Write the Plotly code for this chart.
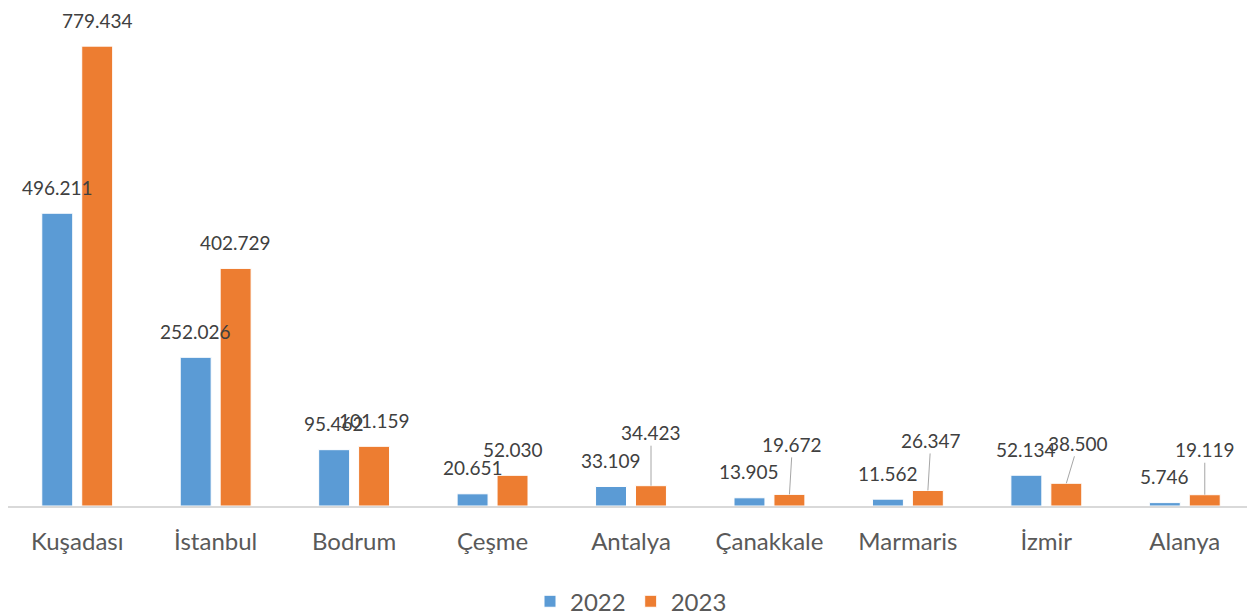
import plotly.graph_objects as go

# veri
sehirler = ['Kuşadası', 'İstanbul', 'Bodrum', 'Çeşme', 'Antalya',
            'Çanakkale', 'Marmaris', 'İzmir', 'Alanya']
yolcu_2022 = [496211, 252026, 95462, 20651, 33109, 13905, 11562, 52134, 5746]
yolcu_2023 = [779434, 402729, 101159, 52030, 34423, 19672, 26347, 38500, 19119]

MAVI = '#5B9BD5'
TURUNCU = '#ED7D31'
YAZI = '#404040'


def tr_sayi(v):
    # Türkçe binlik ayırıcı
    return f'{v:,}'.replace(',', '.')


fig = go.Figure()
fig.add_trace(go.Bar(x=sehirler, y=yolcu_2022, name='2022',
                     marker=dict(color=MAVI, line=dict(color='white', width=1))))
fig.add_trace(go.Bar(x=sehirler, y=yolcu_2023, name='2023',
                     marker=dict(color=TURUNCU, line=dict(color='white', width=1))))

# Excel'deki gibi bazı etiketler kılavuz çizgiyle yukarı taşınmış (dx, dy piksel)
kilavuz_2023 = {'Antalya': (0, -53), 'Çanakkale': (3, -50), 'Marmaris': (3, -50),
                'İzmir': (12, -40), 'Alanya': (0, -45)}

annots = []
for seri, kaydir in ((yolcu_2022, -20), (yolcu_2023, 20)):
    for s, v in zip(sehirler, seri):
        a = dict(x=s, y=v, xref='x', yref='y', text=tr_sayi(v), xshift=kaydir,
                 font=dict(family='Lato', size=19, color=YAZI))
        if kaydir > 0 and s in kilavuz_2023:
            dx, dy = kilavuz_2023[s]
            a.update(showarrow=True, ax=dx, ay=dy, arrowhead=0, arrowwidth=1,
                     arrowcolor='#a6a6a6', standoff=0)
        else:
            a.update(showarrow=False, yanchor='middle', yshift=26)
        annots.append(a)

# sayfa gövdesinin 8 piksellik kenar boşluğu hesaba katıldı
fig.update_layout(
    width=1247, height=607,
    margin=dict(l=0, r=1, t=26, b=109, autoexpand=False),
    paper_bgcolor='white', plot_bgcolor='white',
    barmode='group', bargap=0.423, bargroupgap=0.225,
    font=dict(family='Lato', color='#595959'),
    xaxis=dict(showline=True, linecolor='#d9d9d9', linewidth=1.5, ticks='',
               ticklabelstandoff=13,
               tickfont=dict(size=24, color='#595959'), showgrid=False),
    yaxis=dict(range=[0, 800000], visible=False, showgrid=False),
    legend=dict(orientation='h', x=0.5, xanchor='center', y=-0.155, yanchor='top',
                font=dict(size=24, color='#595959')),
    annotations=annots,
)

fig.write_html('out.html')
